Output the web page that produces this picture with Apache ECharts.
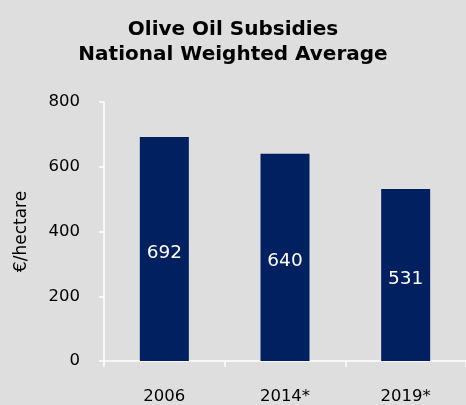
<!DOCTYPE html>
<html>
<head>
<meta charset="utf-8">
<script src="https://cdn.jsdelivr.net/npm/echarts@6/dist/echarts.min.js"></script>
<style>
    html, body { margin: 0; padding: 0; background: #dedede; }
    #chart { width: 466px; height: 405px; }
</style>
</head>
<body>
<div id="chart"></div>
<script>
// 数据
const years = ['2006', '2014*', '2019*'];
const subsidies = [692, 640, 531];
const yTicks = [0, 200, 400, 600, 800];

let myChart = echarts.init(document.getElementById('chart'));
myChart.setOption({
    backgroundColor: '#dedede',
    textStyle: {
        fontFamily: 'DejaVu Sans',
    },
    title: {
        text: 'Olive Oil Subsidies\nNational Weighted Average',
        left: 'center',
        top: 12,
        textStyle: {
            fontSize: 20,
            fontWeight: 'bold',
            color: '#000',
            lineHeight: 25,
        },
    },
    grid: {
        left: 104,
        right: -1,
        top: 102,
        bottom: 44,
    },
    xAxis: {
        type: 'category',
        data: years,
        axisLine: {
            lineStyle: { color: '#fff', width: 1.5 },
        },
        axisTick: {
            show: true,
            length: 6,
            lineStyle: { color: '#fff', width: 1.5 },
        },
        axisLabel: {
            color: '#000',
            fontSize: 16.5,
            margin: 27,
        },
    },
    yAxis: {
        type: 'value',
        min: yTicks[0],
        max: yTicks[yTicks.length - 1],
        interval: 200,
        name: '€/hectare',
        nameLocation: 'middle',
        nameGap: 74,
        nameTextStyle: {
            color: '#000',
            fontSize: 17,
        },
        axisLine: {
            show: true,
            lineStyle: { color: '#fff', width: 1.5 },
        },
        axisTick: {
            show: true,
            length: 5,
            lineStyle: { color: '#fff', width: 1.5 },
        },
        axisLabel: {
            color: '#000',
            fontSize: 16.5,
            margin: 24,
        },
        splitLine: { show: false },
    },
    series: [
        {
            type: 'bar',
            data: subsidies,
            barWidth: 49,
            itemStyle: { color: '#002060' },
            label: {
                show: true,
                position: 'inside',
                offset: [0, 4],
                color: '#fff',
                fontSize: 18.5,
            },
        },
    ],
});
</script>
</body>
</html>
